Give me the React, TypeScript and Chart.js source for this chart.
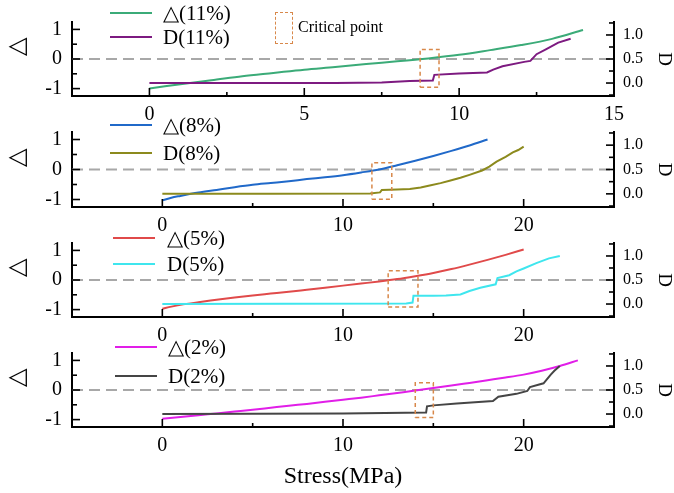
import { useEffect, useRef } from "react";
import { Chart, registerables } from "chart.js";

Chart.register(...registerables);

const SERIF = "'Liberation Serif', 'Times New Roman', serif";

// tick labels
const xTicks11 = [0, 5, 10, 15];
const xTicksRest = [0, 10, 20];
const deltaTicks = [-1, 0, 1];
const damageTicks = [0, 0.5, 1];

// 11 %
const delta11X = [0, 0.5, 1, 2, 3, 4, 5, 6, 7, 8, 9, 10, 11, 12, 13, 14];
const delta11Y = [-1.0, -0.92, -0.85, -0.72, -0.58, -0.47, -0.36, -0.27, -0.17, -0.08, 0.02, 0.14, 0.3, 0.47, 0.68, 0.98];
const damage11X = [0, 6, 7.5, 8.4, 9.15, 9.2, 10, 10.9, 11.1, 11.4, 12.1, 12.3, 12.5, 12.8, 13.2, 13.6];
const damage11Y = [0, 0, 0.01, 0.04, 0.05, 0.17, 0.2, 0.22, 0.28, 0.35, 0.44, 0.46, 0.6, 0.7, 0.84, 0.92];
const crit11X = [8.74, 9.35];
const crit11D = [-0.09, 0.7];

// 8 %
const delta8X = [0, 0.5, 1, 2, 3, 4, 5, 6, 7, 8, 9, 10, 11, 12, 13, 14, 15, 16, 17, 18];
const delta8Y = [-1.03, -0.94, -0.88, -0.77, -0.68, -0.59, -0.51, -0.45, -0.39, -0.32, -0.26, -0.19, -0.1, 0.0, 0.14, 0.29, 0.45, 0.62, 0.8, 1.0];
const damage8X = [0, 6, 11.5, 12.05, 12.15, 13, 13.7, 14.3, 14.8, 15.4, 15.9, 16.5, 17, 17.7, 18.1, 18.5, 19, 19.4, 19.7, 20];
const damage8Y = [0, 0, 0.005, 0.03, 0.08, 0.09, 0.1, 0.13, 0.17, 0.22, 0.27, 0.33, 0.39, 0.48, 0.56, 0.66, 0.76, 0.85, 0.9, 0.97];
const crit8X = [11.6, 12.7];
const crit8D = [-0.11, 0.64];

// 5 %
const delta5X = [0, 0.5, 1, 2, 3, 4, 5, 6, 7, 8, 9, 10, 11, 12, 13, 14, 15, 16, 17, 18, 19, 20];
const delta5Y = [-0.97, -0.9, -0.84, -0.75, -0.67, -0.59, -0.52, -0.46, -0.4, -0.33, -0.26, -0.19, -0.12, -0.05, 0.03, 0.13, 0.24, 0.37, 0.52, 0.68, 0.85, 1.03];
const damage5X = [0, 13.5, 13.85, 13.9, 15, 15.7, 16.5, 17, 17.6, 18.45, 18.55, 19.2, 19.6, 20, 20.7, 21.4, 22];
const damage5Y = [0, 0.01, 0.03, 0.17, 0.17, 0.18, 0.2, 0.27, 0.34, 0.41, 0.54, 0.6, 0.68, 0.74, 0.85, 0.95, 1.0];
const crit5X = [12.5, 14.15];
const crit5D = [-0.06, 0.69];

// 2 %
const delta2X = [0, 1, 2, 3, 4, 5, 6, 7, 8, 9, 10, 11, 12, 13, 14, 15, 16, 17, 18, 19, 20, 21, 22, 23];
const delta2Y = [-0.97, -0.91, -0.85, -0.79, -0.73, -0.67, -0.6, -0.53, -0.47, -0.4, -0.33, -0.26, -0.18, -0.1, -0.02, 0.07, 0.15, 0.24, 0.33, 0.42, 0.52, 0.65, 0.81, 1.0];
const damage2X = [0, 5, 10, 14.6, 14.65, 15, 16.3, 18.3, 18.6, 19.6, 20.2, 20.35, 21.1, 21.5, 21.7, 22];
const damage2Y = [0, 0.005, 0.01, 0.03, 0.16, 0.18, 0.22, 0.27, 0.36, 0.42, 0.48, 0.56, 0.64, 0.82, 0.9, 1.0];
const crit2X = [14.0, 15.0];
const crit2D = [-0.07, 0.65];

const pts = (xs: number[], ys: number[]) => xs.map((x, i) => ({ x, y: ys[i] }));

// draws short tick marks pointing into the plot, major + minor
const inwardTicks = {
  id: "inwardTicks",
  afterDatasetsDraw(chart: any) {
    const { ctx, chartArea: a, scales } = chart;
    const split = (s: any) => {
      const major = s.ticks.map((t: any) => t.value);
      const step = major[1] - major[0];
      const minor: number[] = [];
      for (let v = major[0] - step / 2; v < s.max - 1e-6; v += step) if (v > s.min + 1e-6) minor.push(v);
      return { major, minor };
    };
    ctx.save();
    ctx.strokeStyle = "#000";
    ctx.lineWidth = 1.6;
    const line = (x1: number, y1: number, x2: number, y2: number) => {
      ctx.beginPath();
      ctx.moveTo(x1, y1);
      ctx.lineTo(x2, y2);
      ctx.stroke();
    };
    const sx = split(scales.x);
    sx.major.forEach((v: number) => { const p = scales.x.getPixelForValue(v); line(p, a.bottom, p, a.bottom - 8); });
    sx.minor.forEach((v: number) => { const p = scales.x.getPixelForValue(v); line(p, a.bottom, p, a.bottom - 4); });
    const sl = split(scales.y);
    sl.major.forEach((v: number) => { const p = scales.y.getPixelForValue(v); line(a.left, p, a.left + 8, p); });
    sl.minor.forEach((v: number) => { const p = scales.y.getPixelForValue(v); line(a.left, p, a.left + 5, p); });
    const sr = split(scales.y2);
    sr.major.forEach((v: number) => { const p = scales.y2.getPixelForValue(v); line(a.right, p, a.right - 8, p); });
    sr.minor.forEach((v: number) => { const p = scales.y2.getPixelForValue(v); line(a.right, p, a.right - 5, p); });
    ctx.restore();
  },
};

interface Series { xs: number[]; ys: number[]; color: string; }
interface PanelProps {
  top: number; height: number; axisH: number;
  xMin: number; xMax: number; xTicks: number[];
  delta: Series; damage: Series;
  critX: number[]; critD: number[];
  xTitle?: string;
}

function Panel(p: PanelProps) {
  const ref = useRef<HTMLCanvasElement>(null);

  useEffect(() => {
    if (!ref.current) return;
    const box = [
      { x: p.critX[0], y: p.critD[0] }, { x: p.critX[1], y: p.critD[0] },
      { x: p.critX[1], y: p.critD[1] }, { x: p.critX[0], y: p.critD[1] },
      { x: p.critX[0], y: p.critD[0] },
    ];
    const tickFont = { family: SERIF, size: 20 };
    const chart = new Chart(ref.current, {
      type: "line",
      data: {
        datasets: [
          { data: pts(p.delta.xs, p.delta.ys), borderColor: p.delta.color, borderWidth: 2, pointRadius: 0, cubicInterpolationMode: "monotone", yAxisID: "y", order: 2 },
          { data: pts(p.damage.xs, p.damage.ys), borderColor: p.damage.color, borderWidth: 2, pointRadius: 0, tension: 0, yAxisID: "y2", order: 1 },
          { data: [{ x: p.xMin, y: 0 }, { x: p.xMax, y: 0 }], borderColor: "#a8a8a8", borderDash: [11, 6], borderWidth: 2, pointRadius: 0, yAxisID: "y", order: 5 },
          { data: box, borderColor: "#d8884a", borderDash: [4, 3], borderWidth: 1.5, pointRadius: 0, yAxisID: "y2", order: 0 },
        ] as any,
      },
      options: {
        animation: false,
        responsive: true,
        maintainAspectRatio: false,
        events: [],
        layout: { padding: { top: 13, left: 0, right: 0, bottom: 0 } },
        plugins: { legend: { display: false }, tooltip: { enabled: false } },
        scales: {
          x: {
            type: "linear",
            position: "bottom",
            min: p.xMin,
            max: p.xMax,
            afterBuildTicks: (s: any) => { s.ticks = p.xTicks.map((v) => ({ value: v })); },
            afterFit: (s: any) => { s.height = p.axisH; },
            grid: { display: false, drawTicks: false },
            border: { display: true, color: "#000", width: 2 },
            ticks: { font: tickFont, color: "#000", padding: 7, maxRotation: 0, autoSkip: false },
            title: {
              display: !!p.xTitle,
              text: p.xTitle || "",
              color: "#000",
              font: { family: SERIF, size: 24 },
              padding: { top: 0, bottom: 2 },
            },
          },
          y: {
            type: "linear",
            position: "left",
            min: -1.25,
            max: 1.25,
            afterBuildTicks: (s: any) => { s.ticks = deltaTicks.map((v) => ({ value: v })); },
            afterFit: (s: any) => { s.width = 72; },
            grid: { display: false, drawTicks: false },
            border: { display: true, color: "#000", width: 2 },
            ticks: { font: tickFont, color: "#000", padding: 10, autoSkip: false },
            title: { display: true, text: "\u2003△", color: "#000", font: { family: SERIF, size: 24 }, padding: { top: 3, bottom: 0 } },
          },
          y2: {
            type: "linear",
            position: "right",
            min: -0.27,
            max: 1.27,
            afterBuildTicks: (s: any) => { s.ticks = damageTicks.map((v) => ({ value: v })); },
            afterFit: (s: any) => { s.width = 60; },
            grid: { display: false, drawTicks: false },
            border: { display: true, color: "#000", width: 2 },
            ticks: { font: { family: SERIF, size: 16 }, color: "#000", padding: 9, autoSkip: false, callback: (v: any) => Number(v).toFixed(1) },
            title: { display: true, text: "D", color: "#000", font: { family: SERIF, size: 19 }, padding: { top: -1, bottom: 0 } },
          },
        },
      } as any,
      plugins: [inwardTicks],
    });
    return () => chart.destroy();
  }, []);

  return (
    <div style={{ position: "absolute", left: 0, top: p.top, width: 674, height: p.height }}>
      <canvas ref={ref} />
    </div>
  );
}

function LegendRow({ x, y, color, text, gap }: { x: number; y: number; color: string; text: string; gap: number }) {
  return (
    <div style={{ position: "absolute", left: x, top: y - 12, height: 24, display: "flex", alignItems: "center" }}>
      <div style={{ width: 42, height: 2, background: color }} />
      <span style={{ marginLeft: gap, fontSize: 21, lineHeight: "24px", whiteSpace: "nowrap", color: "#000" }}>{text}</span>
    </div>
  );
}

const COLORS = {
  g: "#3bab78", p: "#7d1a80", b: "#2069c9", o: "#8c8a1d",
  r: "#e04a4a", c: "#3fe6ee", m: "#e11ee8", k: "#454545",
};

export default function App() {
  return (
    <div style={{ position: "absolute", left: 0, top: 0, width: 674, height: 493, background: "#fff", overflow: "hidden", fontFamily: SERIF }}>
      <Panel top={0} height={126} axisH={30} xMin={-2.5} xMax={15} xTicks={xTicks11}
        delta={{ xs: delta11X, ys: delta11Y, color: COLORS.g }} damage={{ xs: damage11X, ys: damage11Y, color: COLORS.p }}
        critX={crit11X} critD={crit11D} />
      <Panel top={110} height={127} axisH={30} xMin={-5} xMax={25} xTicks={xTicksRest}
        delta={{ xs: delta8X, ys: delta8Y, color: COLORS.b }} damage={{ xs: damage8X, ys: damage8Y, color: COLORS.o }}
        critX={crit8X} critD={crit8D} />
      <Panel top={221} height={126} axisH={30} xMin={-5} xMax={25} xTicks={xTicksRest}
        delta={{ xs: delta5X, ys: delta5Y, color: COLORS.r }} damage={{ xs: damage5X, ys: damage5Y, color: COLORS.c }}
        critX={crit5X} critD={crit5D} />
      <Panel top={331} height={162} axisH={66} xMin={-5} xMax={25} xTicks={xTicksRest}
        delta={{ xs: delta2X, ys: delta2Y, color: COLORS.m }} damage={{ xs: damage2X, ys: damage2Y, color: COLORS.k }}
        critX={crit2X} critD={crit2D} xTitle="Stress(MPa)" />

      <LegendRow x={110} y={13} color={COLORS.g} text="△(11%)" gap={11} />
      <LegendRow x={110} y={37} color={COLORS.p} text="D(11%)" gap={11} />
      <LegendRow x={110} y={125} color={COLORS.b} text="△(8%)" gap={11} />
      <LegendRow x={110} y={153} color={COLORS.o} text="D(8%)" gap={11} />
      <LegendRow x={113} y={238} color={COLORS.r} text="△(5%)" gap={12} />
      <LegendRow x={113} y={264} color={COLORS.c} text="D(5%)" gap={12} />
      <LegendRow x={115} y={347} color={COLORS.m} text="△(2%)" gap={11} />
      <LegendRow x={115} y={376} color={COLORS.k} text="D(2%)" gap={11} />

      <div style={{ position: "absolute", left: 275, top: 12, width: 16, height: 30, border: "1.5px dashed #d8884a" }} />
      <div style={{ position: "absolute", left: 298, top: 17, fontSize: 16, lineHeight: "20px", whiteSpace: "nowrap", color: "#000" }}>Critical point</div>
    </div>
  );
}
